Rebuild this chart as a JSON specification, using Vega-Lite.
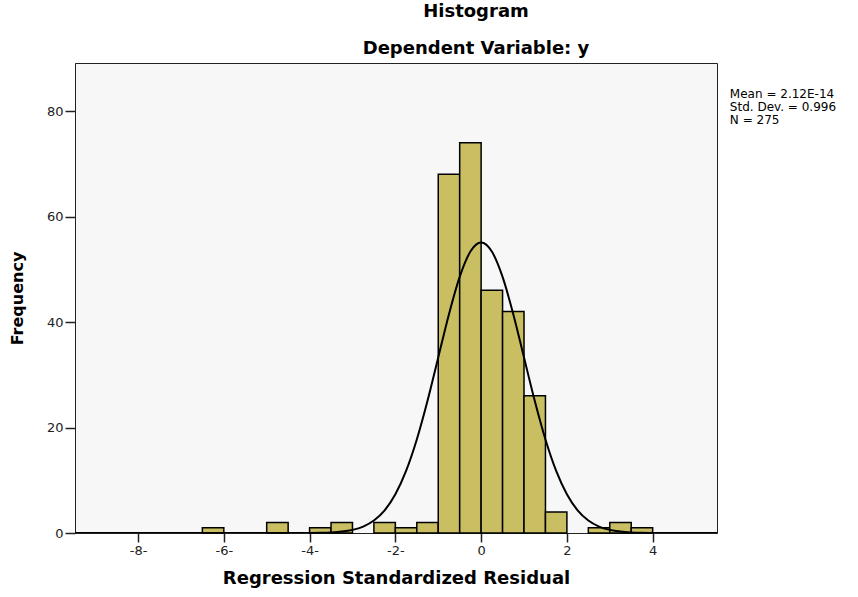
{
  "$schema": "https://vega.github.io/schema/vega-lite/v6.json",
  "width": 642,
  "height": 470,
  "autosize": "none",
  "padding": {"left": 75, "top": 63, "right": 141, "bottom": 64},
  "background": "white",
  "title": {
    "text": ["Histogram", "Dependent Variable: y"],
    "font": "DejaVu Sans",
    "fontWeight": "bold",
    "fontSize": 18,
    "lineHeight": 37,
    "color": "black",
    "anchor": "middle",
    "frame": "group",
    "dx": 80,
    "offset": 5
  },
  "config": {
    "view": {"fill": "#f7f7f7", "stroke": "#222", "strokeWidth": 1},
    "axis": {
      "grid": false,
      "labelFont": "DejaVu Sans",
      "labelFontSize": 13,
      "labelColor": "#222",
      "titleFont": "DejaVu Sans",
      "titleFontWeight": "bold",
      "titleColor": "black",
      "domainColor": "#222",
      "tickColor": "#222",
      "tickWidth": 1.5
    }
  },
  "datasets": {
    "bins": [
      {"b0": -6.5, "b1": -6.0, "count": 1},
      {"b0": -5.0, "b1": -4.5, "count": 2},
      {"b0": -4.0, "b1": -3.5, "count": 1},
      {"b0": -3.5, "b1": -3.0, "count": 2},
      {"b0": -2.5, "b1": -2.0, "count": 2},
      {"b0": -2.0, "b1": -1.5, "count": 1},
      {"b0": -1.5, "b1": -1.0, "count": 2},
      {"b0": -1.0, "b1": -0.5, "count": 68},
      {"b0": -0.5, "b1": 0.0, "count": 74},
      {"b0": 0.0, "b1": 0.5, "count": 46},
      {"b0": 0.5, "b1": 1.0, "count": 42},
      {"b0": 1.0, "b1": 1.5, "count": 26},
      {"b0": 1.5, "b1": 2.0, "count": 4},
      {"b0": 2.5, "b1": 3.0, "count": 1},
      {"b0": 3.0, "b1": 3.5, "count": 2},
      {"b0": 3.5, "b1": 4.0, "count": 1}
    ],
    "curve": [
      {"x": -9.47, "f": 0},
      {"x": -6.0, "f": 0},
      {"x": -5.0, "f": 0.0002},
      {"x": -4.5, "f": 0.002},
      {"x": -4.0, "f": 0.017},
      {"x": -3.75, "f": 0.046},
      {"x": -3.5, "f": 0.115},
      {"x": -3.25, "f": 0.268},
      {"x": -3.0, "f": 0.59},
      {"x": -2.75, "f": 1.218},
      {"x": -2.5, "f": 2.36},
      {"x": -2.25, "f": 4.29},
      {"x": -2.0, "f": 7.34},
      {"x": -1.75, "f": 11.76},
      {"x": -1.5, "f": 17.72},
      {"x": -1.25, "f": 25.06},
      {"x": -1.0, "f": 33.27},
      {"x": -0.75, "f": 41.48},
      {"x": -0.5, "f": 48.55},
      {"x": -0.25, "f": 53.36},
      {"x": 0.0, "f": 55.07},
      {"x": 0.25, "f": 53.36},
      {"x": 0.5, "f": 48.55},
      {"x": 0.75, "f": 41.48},
      {"x": 1.0, "f": 33.27},
      {"x": 1.25, "f": 25.06},
      {"x": 1.5, "f": 17.72},
      {"x": 1.75, "f": 11.76},
      {"x": 2.0, "f": 7.34},
      {"x": 2.25, "f": 4.29},
      {"x": 2.5, "f": 2.36},
      {"x": 2.75, "f": 1.218},
      {"x": 3.0, "f": 0.59},
      {"x": 3.25, "f": 0.268},
      {"x": 3.5, "f": 0.115},
      {"x": 3.75, "f": 0.046},
      {"x": 4.0, "f": 0.017},
      {"x": 4.5, "f": 0.002},
      {"x": 5.0, "f": 0.0002},
      {"x": 5.5, "f": 0}
    ],
    "stats": [
      {"x": 5.8, "y": 82.4, "label": "Mean = 2.12E-14"},
      {"x": 5.8, "y": 80.0, "label": "Std. Dev. = 0.996"},
      {"x": 5.8, "y": 77.6, "label": "N = 275"}
    ]
  },
  "layer": [
    {
      "data": {"name": "bins"},
      "mark": {"type": "rect", "fill": "#c9bf62", "stroke": "black", "strokeWidth": 1.5},
      "encoding": {
        "x": {
          "field": "b0", "type": "quantitative",
          "scale": {"domain": [-9.47, 5.5], "nice": false, "zero": false},
          "axis": {
            "values": [-8, -6, -4, -2, 0, 2, 4],
            "tickSize": 9,
            "labelPadding": 2,
            "labelExpr": "datum.value < 0 ? '-' + abs(datum.value) + '-' : '' + datum.value",
            "title": "Regression Standardized Residual",
            "titleFontSize": 18,
            "titlePadding": 12
          }
        },
        "x2": {"field": "b1"},
        "y": {
          "field": "count", "type": "quantitative",
          "scale": {"domain": [0, 89.1], "nice": false},
          "axis": {
            "values": [0, 20, 40, 60, 80],
            "tickSize": 10,
            "labelPadding": 2,
            "title": "Frequency",
            "titleFontSize": 16,
            "titlePadding": 21
          }
        },
        "y2": {"datum": 0}
      }
    },
    {
      "data": {"name": "curve"},
      "mark": {"type": "line", "color": "black", "strokeWidth": 2, "interpolate": "monotone", "clip": true},
      "encoding": {
        "x": {"field": "x", "type": "quantitative"},
        "y": {"field": "f", "type": "quantitative"}
      }
    },
    {
      "data": {"name": "stats"},
      "mark": {"type": "text", "align": "left", "baseline": "alphabetic", "font": "DejaVu Sans", "fontSize": 12, "color": "black"},
      "encoding": {
        "x": {"field": "x", "type": "quantitative"},
        "y": {"field": "y", "type": "quantitative"},
        "text": {"field": "label"}
      }
    }
  ]
}
